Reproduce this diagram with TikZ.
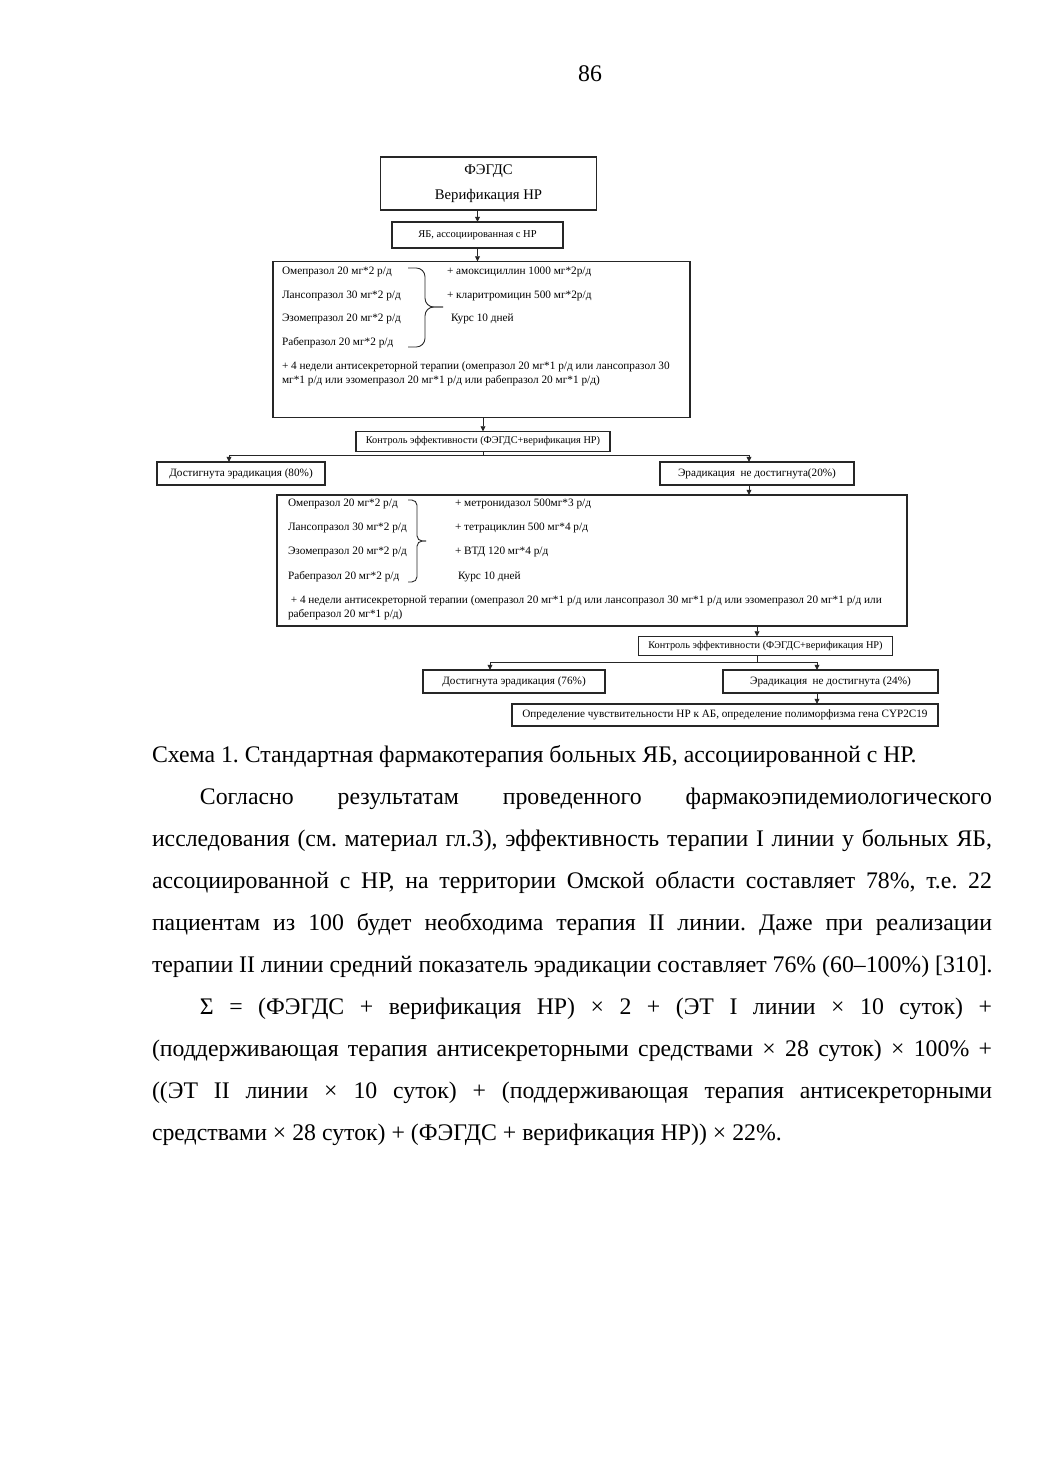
\documentclass[tikz,border=0pt]{standalone}
\usepackage{fontspec}
\setmainfont{Liberation Serif}
\usetikzlibrary{positioning,arrows.meta}
\frenchspacing

\newcommand\pxu{0.5719pt}
\newcommand\parw{480.4pt}

\begin{document}
\begin{tikzpicture}[x=0.5719pt, y=-0.5719pt,
	every node/.style={inner sep=0pt, outer sep=0pt},
	box/.style 2 args={draw=black!85, line width=0.6pt, minimum width=#1*\pxu, minimum height=#2*\pxu, font=\fontsize{6.4}{8}\selectfont},
	ctrlbox/.style={font=\fontsize{5.9}{7}\selectfont},
	drug/.style={anchor=west, font=\fontsize{6.45}{8}\selectfont},
	flow/.style={-{Triangle[length=3pt,width=2.8pt]}, line width=0.5pt, draw=black!85},
	link/.style={line width=0.5pt, draw=black!85},
	bodyline/.style={anchor=base west, font=\fontsize{13.6}{16}\selectfont}]
		% page frame
		\useasboundingbox[fill=white] (0,0) rectangle (1041,1472);
		\node[font=\fontsize{13.6}{16}\selectfont, anchor=base] (pagenum) at (590,82) {86};
		
		% ===== SCHEME: FIRST LINE =====
		\node[box={216}{53}, align=center, font=\fontsize{8.4}{14.3}\selectfont] (fegds) at (488.5,183.5) {ФЭГДС\\Верификация НР};
		\node[box={171}{26}, font=\fontsize{6}{8}\selectfont] (yab) at (477.5,235) {ЯБ, ассоциированная с НР};
		\node[box={417}{156}] (plan1) at (481.5,339.5) {};
		
		% first line drugs
		\node[drug] (ppi1a) at (282,272) {Омепразол 20 мг*2 р/д};
		\node[drug] (ppi1b) at (282,296) {Лансопразол 30 мг*2 р/д};
		\node[drug] (ppi1c) at (282,319) {Эзомепразол 20 мг*2 р/д};
		\node[drug] (ppi1d) at (282,343) {Рабепразол 20 мг*2 р/д};
		\draw[link, rounded corners=5pt] (408,268) -| (425,307) -- (443,307);
		\draw[link, rounded corners=5pt] (408,347) -| (425,307) -- (443,307);
		\node[drug] (ab1a) at (447,272) {+ амоксициллин 1000 мг*2р/д};
		\node[drug] (ab1b) at (447,296) {+ кларитромицин 500 мг*2р/д};
		\node[drug] (course1) at (451,319) {Курс 10 дней};
		\node[drug, align=left, font=\fontsize{6.45}{8.3}\selectfont] (maint1) at (282,374)
			{+ 4 недели антисекреторной терапии (омепразол 20 мг*1 р/д или лансопразол 30\\мг*1 р/д или эзомепразол 20 мг*1 р/д или рабепразол 20 мг*1 р/д)};
		
		% control after first line
		\node[box={254}{20}, ctrlbox] (ctrl1) at (483,441.5) {Контроль эффективности (ФЭГДС+верификация НР)};
		\node[box={168}{23}] (okA) at (241,473.5) {Достигнута эрадикация (80\%)};
		\node[box={194}{23}] (failA) at (757,473.5) {Эрадикация\ \ не достигнута(20\%)};
		\coordinate (split1) at (483,455);
		\coordinate (tipA) at (229,455);
		\coordinate (tipB) at (749,455);
		
		% ===== SCHEME: SECOND LINE =====
		\node[box={630}{131}] (plan2) at (592,560.5) {};
		\node[drug] (ppi2a) at (288,504) {Омепразол 20 мг*2 р/д};
		\node[drug] (ppi2b) at (288,528) {Лансопразол 30 мг*2 р/д};
		\node[drug] (ppi2c) at (288,552) {Эзомепразол 20 мг*2 р/д};
		\node[drug] (ppi2d) at (288,577) {Рабепразол 20 мг*2 р/д};
		\draw[link, rounded corners=3pt] (408,500) -| (417,541) -- (426,541);
		\draw[link, rounded corners=3pt] (408,582) -| (417,541) -- (426,541);
		\node[drug] (ab2a) at (455,504) {+ метронидазол 500мг*3 р/д};
		\node[drug] (ab2b) at (455,528) {+ тетрациклин 500 мг*4 р/д};
		\node[drug] (ab2c) at (455,552) {+ ВТД 120 мг*4 р/д};
		\node[drug] (course2) at (458,577) {Курс 10 дней};
		\node[drug, align=left, font=\fontsize{6.45}{8.3}\selectfont] (maint2) at (288,608)
			{\ + 4 недели антисекреторной терапии (омепразол 20 мг*1 р/д или лансопразол 30 мг*1 р/д или эзомепразол 20 мг*1 р/д или\\рабепразол 20 мг*1 р/д)};
		
		% control after second line
		\node[box={254}{19}, ctrlbox] (ctrl2) at (765.5,646) {Контроль эффективности (ФЭГДС+верификация НР)};
		\node[box={182}{23}] (okB) at (514,681.5) {Достигнута эрадикация (76\%)};
		\node[box={215}{23}] (failB) at (830.5,681.5) {Эрадикация\ \ не достигнута (24\%)};
		\node[box={426}{22}] (lab) at (725,715) {Определение чувствительности НР к АБ, определение полиморфизма гена CYP2C19};
		\coordinate (tipC) at (757,662);
		\coordinate (tipD) at (490,662);
		\coordinate (tipE) at (817,662);
		
		% ===== CONNECTORS =====
		\draw[flow] (fegds.south -| yab.north) -- (yab.north);
		\draw[flow] (yab.south) -- (yab.south |- plan1.north);
		\draw[flow] (plan1.south -| ctrl1.north) -- (ctrl1.north);
		\draw[link] (ctrl1.south) -- (split1);
		\draw[flow] (split1) -| (tipA |- okA.north);
		\draw[flow] (split1) -| (tipB |- failA.north);
		\draw[flow] (tipB |- failA.south) -- (tipB |- plan2.north);
		\draw[flow] (tipC |- plan2.south) -- (tipC |- ctrl2.north);
		\draw[link] (tipC |- ctrl2.south) -- (tipC);
		\draw[flow] (tipC) -| (tipD |- okB.north);
		\draw[flow] (tipC) -| (tipE |- failB.north);
		\draw[flow] (tipE |- failB.south) -- (tipE |- lab.north);
		
		% ===== CAPTION AND TEXT =====
		\node[bodyline] (caption) at (152,762) {Схема 1. Стандартная фармакотерапия больных ЯБ, ассоциированной с НР.};
		\node[bodyline] (line1) at (152,804) {\makebox[\parw][s]{\hspace*{27.4pt}Согласно результатам проведенного фармакоэпидемиологического}};
		\node[bodyline] (line2) at (152,846) {\makebox[\parw][s]{исследования (см. материал гл.3), эффективность терапии I линии у больных ЯБ,}};
		\node[bodyline] (line3) at (152,888) {\makebox[\parw][s]{ассоциированной с НР, на территории Омской области составляет 78\%, т.е. 22}};
		\node[bodyline] (line4) at (152,930) {\makebox[\parw][s]{пациентам из 100 будет необходима терапия II линии. Даже при реализации}};
		\node[bodyline] (line5) at (152,972) {терапии II линии средний показатель эрадикации составляет 76\% (60–100\%) [310].};
		\node[bodyline] (line6) at (152,1014) {\makebox[\parw][s]{\hspace*{27.4pt}Σ = (ФЭГДС + верификация НР) × 2 + (ЭТ I линии × 10 суток) +}};
		\node[bodyline] (line7) at (152,1056) {\makebox[\parw][s]{(поддерживающая терапия антисекреторными средствами × 28 суток) × 100\% +}};
		\node[bodyline] (line8) at (152,1098) {\makebox[\parw][s]{((ЭТ II линии × 10 суток) + (поддерживающая терапия антисекреторными}};
		\node[bodyline] (line9) at (152,1140) {средствами × 28 суток) + (ФЭГДС + верификация НР)) × 22\%.};
		
	\end{tikzpicture}
\end{document}
